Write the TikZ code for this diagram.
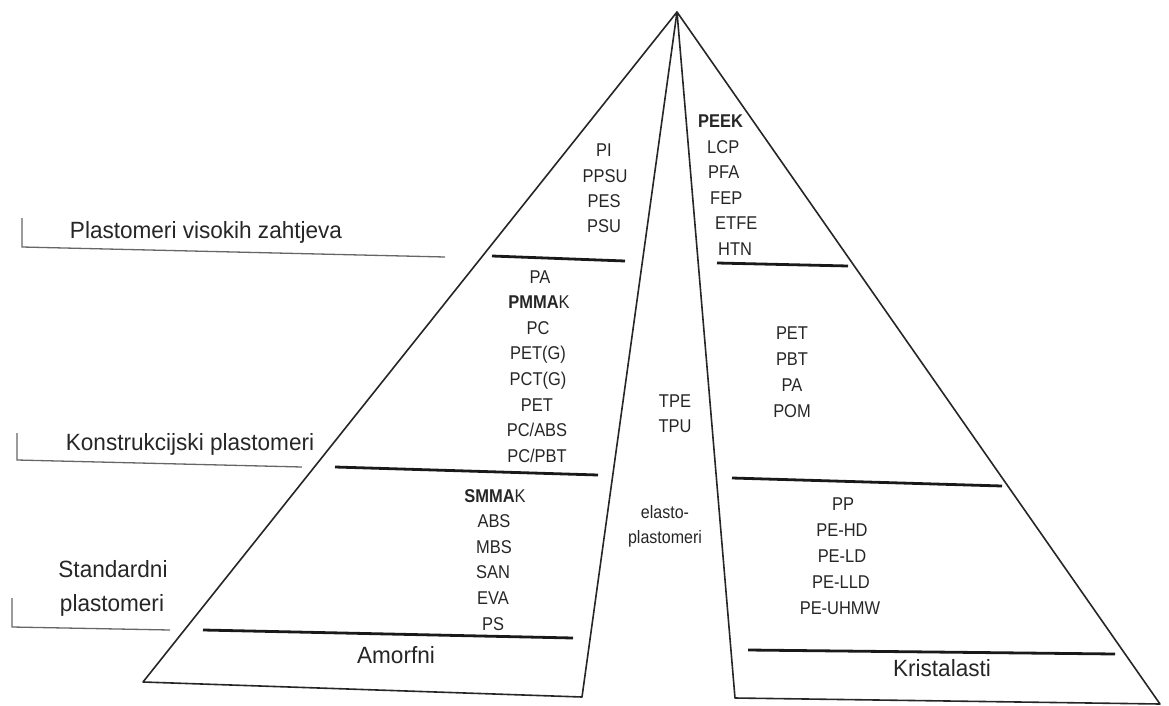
\documentclass[tikz,border=0pt]{standalone}
\usepackage{fontspec}
\setmainfont{Liberation Sans}
\newfontfamily\narrowfont[FakeStretch=0.89]{Liberation Sans}
\newfontfamily\labelfont[FakeStretch=0.96]{Liberation Sans}
\begin{document}
\begin{tikzpicture}[x=1pt,y=-1pt,
  edge/.style={line width=1.6pt, draw=black!85, line join=round},
  divider/.style={line width=2.8pt, draw=black!90},
  bracket/.style={line width=1.3pt, draw=black!60},
  item/.style={anchor=base, inner sep=0pt, font=\narrowfont\fontsize{18.5}{22}\selectfont, text=black!85},
  itemw/.style={item, anchor=base west},
  small/.style={anchor=base, inner sep=0pt, font=\narrowfont\fontsize{18}{21}\selectfont, text=black!85},
  label/.style={anchor=base, inner sep=0pt, font=\labelfont\fontsize{23.5}{27}\selectfont, text=black!85}]
\useasboundingbox (0,0) rectangle (1169,706);
% triangle corners
\coordinate (apex) at (677,12);
\coordinate (lbl) at (143,682);
\coordinate (lbr) at (582,697);
\coordinate (rbl) at (735,698);
\coordinate (rbr) at (1160,704);
\draw[edge] (apex) -- (lbl) -- (lbr) -- cycle;
\draw[edge] (apex) -- (rbl) -- (rbr) -- cycle;
% dividers
\coordinate (l1a) at (492,256); \coordinate (l1b) at (625,261);
\coordinate (l2a) at (335,467); \coordinate (l2b) at (598,475);
\coordinate (l3a) at (203,630); \coordinate (l3b) at (573,638);
\coordinate (r1a) at (717,263); \coordinate (r1b) at (848,266);
\coordinate (r2a) at (732,478); \coordinate (r2b) at (1002,486);
\coordinate (r3a) at (748,650); \coordinate (r3b) at (1115,654);
\draw[divider] (l1a) -- (l1b);
\draw[divider] (l2a) -- (l2b);
\draw[divider] (l3a) -- (l3b);
\draw[divider] (r1a) -- (r1b);
\draw[divider] (r2a) -- (r2b);
\draw[divider] (r3a) -- (r3b);
% brackets
\coordinate (b1a) at (22,218); \coordinate (b1b) at (22,247); \coordinate (b1c) at (445,257);
\coordinate (b2a) at (17,433); \coordinate (b2b) at (17,460); \coordinate (b2c) at (302,467);
\coordinate (b3a) at (12,598); \coordinate (b3b) at (12,627); \coordinate (b3c) at (170,630);
\draw[bracket] (b1a) -- (b1b) -- (b1c);
\draw[bracket] (b2a) -- (b2b) -- (b2c);
\draw[bracket] (b3a) -- (b3b) -- (b3c);
% side labels
\node[label] (lab1) at (206,238) {Plastomeri visokih zahtjeva};
\node[label] (lab2) at (190,450) {Konstrukcijski plastomeri};
\node[label] (lab3a) at (113,577) {Standardni};
\node[label] (lab3b) at (112,611) {plastomeri};
\node[label] (amorf) at (396,663) {Amorfni};
\node[label] (krist) at (942,676) {Kristalasti};
% left group 1
\node[item] (pi) at (604,157) {PI};
\node[item] (ppsu) at (605,182) {PPSU};
\node[item] (pes) at (604,207) {PES};
\node[item] (psu) at (604,232) {PSU};
% left group 2
\node[item] (pa1) at (540,283) {PA};
\node[item] (pmmak) at (539,308.6) {{\bfseries PMMA}K};
\node[item] (pc) at (538,334.2) {PC};
\node[item] (petg) at (538,359.8) {PET(G)};
\node[item] (pctg) at (538,385.4) {PCT(G)};
\node[item] (pet1) at (537,411) {PET};
\node[item] (pcabs) at (537,436.6) {PC/ABS};
\node[item] (pcpbt) at (537,462) {PC/PBT};
% left group 3
\node[item] (smmak) at (495,502) {{\bfseries SMMA}K};
\node[item] (abs) at (494,527.6) {ABS};
\node[item] (mbs) at (494,553.2) {MBS};
\node[item] (san) at (493,578.8) {SAN};
\node[item] (eva) at (493,604.4) {EVA};
\node[item] (ps) at (493,630) {PS};
% middle
\node[item] (tpe) at (675,407) {TPE};
\node[item] (tpu) at (675,432) {TPU};
\node[small] (el1) at (665,518) {elasto-};
\node[small] (el2) at (665,543) {plastomeri};
% right group 1
\node[itemw] (peek) at (698,128) {\bfseries PEEK};
\node[itemw] (lcp) at (707,153.4) {LCP};
\node[itemw] (pfa) at (708,178.8) {PFA};
\node[itemw] (fep) at (710,204.2) {FEP};
\node[itemw] (etfe) at (715,229.6) {ETFE};
\node[itemw] (htn) at (718,255) {HTN};
% right group 2
\node[item] (pet2) at (792,339) {PET};
\node[item] (pbt) at (792,365) {PBT};
\node[item] (pa2) at (792,391) {PA};
\node[item] (pom) at (792,417) {POM};
% right group 3
\node[item] (pp) at (843,510) {PP};
\node[item] (pehd) at (842,536) {PE-HD};
\node[item] (peld) at (842,562) {PE-LD};
\node[item] (pelld) at (841,588) {PE-LLD};
\node[item] (peuhmw) at (840,614) {PE-UHMW};
\end{tikzpicture}
\end{document}
